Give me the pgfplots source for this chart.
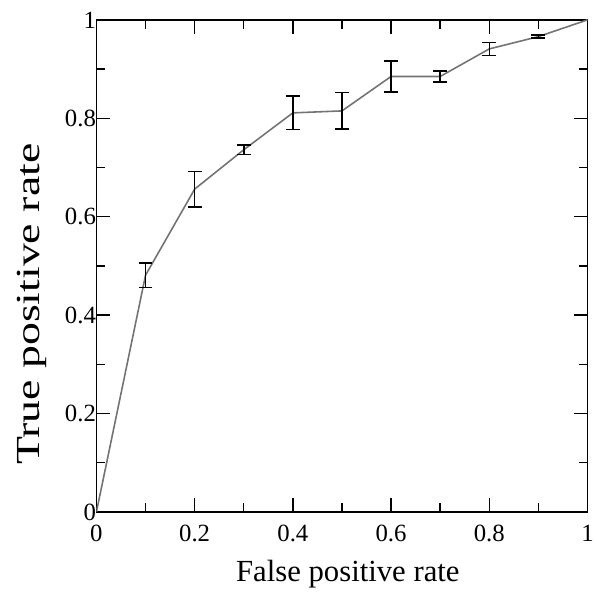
\documentclass[border=0pt]{standalone}
\usepackage{fontspec}
\setmainfont{Liberation Serif}
\usepackage{pgfplots}
\pgfplotsset{compat=1.18}
\usepackage{graphicx}
\begin{document}
\begin{tikzpicture}
\begin{axis}[
  scale only axis,
  width=494bp, height=495bp,
  xmin=0, xmax=1, ymin=0, ymax=1,
  xtick={0,0.2,...,1}, ytick={0,0.2,...,1},
  minor xtick={0.1,0.3,...,0.9}, minor ytick={0.1,0.3,...,0.9},
  xticklabels={0,0.2,0.4,0.6,0.8,1},
  yticklabels={0,0.2,0.4,0.6,0.8,1},
  tick align=inside,
  major tick length=14bp, minor tick length=9bp,
  every tick/.style={black, line width=1.5pt},
  axis line style={line width=1.5pt},
  /pgf/number format/assume math mode=true,
  tick label style={font=\fontsize{25}{30}\selectfont},
  xlabel style={font=\fontsize{31}{36}\selectfont},
  ylabel style={font=\fontsize{34}{40}\selectfont},
  xlabel={False positive rate},
  ylabel={\scalebox{1.36}[1]{True positive rate}},
  xlabel style={at={(axis description cs:0.512,0)}, anchor=base, yshift=-70bp},
  ylabel style={at={(axis description cs:-0.132,0.422)}, anchor=center},
  xticklabel style={yshift=-10bp},
  yticklabel style={xshift=3bp},
]
\addplot[black!55, line width=1.6pt,
  error bars/.cd, y dir=both, y explicit,
  error bar style={black, line width=1.6pt},
  error mark options={rotate=90, mark size=7bp, line width=1.6pt, black}]
  coordinates {
    (0,0)
    (0.1,0.481) +- (0,0.025)
    (0.2,0.656) +- (0,0.036)
    (0.3,0.736) +- (0,0.010)
    (0.4,0.811) +- (0,0.034)
    (0.5,0.815) +- (0,0.037)
    (0.6,0.885) +- (0,0.031)
    (0.7,0.885) +- (0,0.011)
    (0.8,0.941) +- (0,0.013)
    (0.9,0.966) +- (0,0.003)
    (1,1)
  };
\end{axis}
\path (current axis.south west) ++(-97bp,-79bp);
\path (current axis.north east) ++(6bp,20bp);
\end{tikzpicture}
\end{document}
